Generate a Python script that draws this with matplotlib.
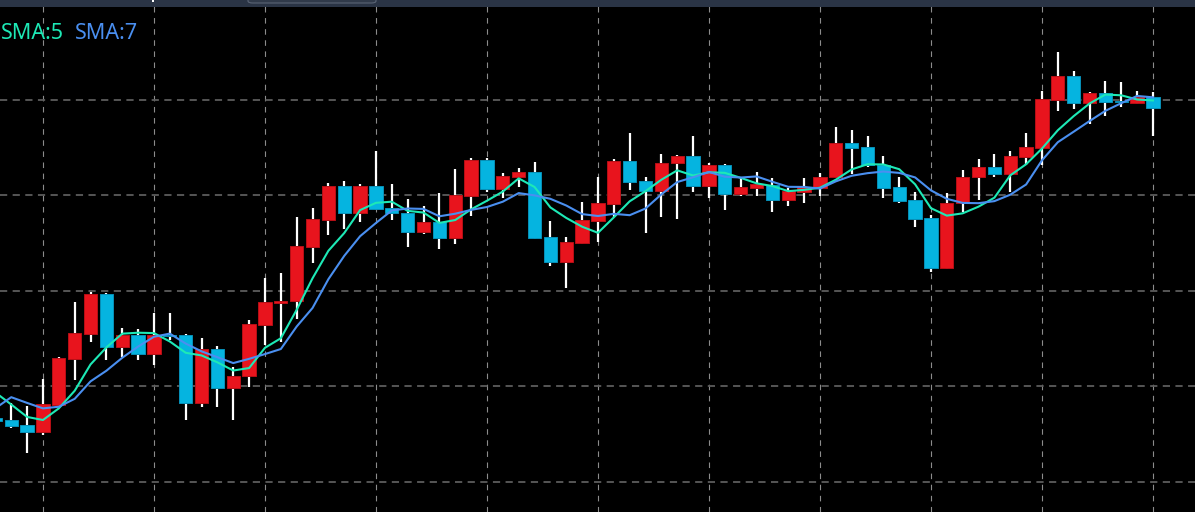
import matplotlib
matplotlib.use("Agg")
import matplotlib.pyplot as plt
import numpy as np
from matplotlib.patches import FancyBboxPatch, Rectangle

# OHLC per candle (grid step = 1.00)
opens = [100.66, 100.64, 100.59, 100.52, 100.80, 101.28, 101.54, 101.96, 101.41, 101.53,
         101.34, 101.53, 101.53, 100.82, 101.39, 100.98, 101.10, 101.64, 101.87, 101.89,
         102.46, 102.74, 103.09, 102.81, 103.09, 102.86, 102.81, 102.61, 102.72, 102.55,
         102.99, 103.37, 103.06, 103.19, 103.24, 102.56, 102.30, 102.50, 102.73, 102.91,
         103.36, 103.15, 103.04, 103.34, 103.41, 103.09, 103.31, 103.01, 103.07, 103.10,
         102.95, 103.03, 103.07, 103.19, 103.54, 103.50, 103.31, 103.08, 102.95, 102.76,
         102.24, 102.92, 103.19, 103.29, 103.22, 103.40, 103.49, 104.00, 104.25, 103.96,
         104.07, 103.98, 103.96, 104.03]
highs = [100.71, 100.82, 100.79, 101.07, 101.30, 101.88, 101.98, 101.97, 101.61, 101.60,
         101.76, 101.76, 101.54, 101.50, 101.42, 101.20, 101.69, 102.13, 102.18, 102.77,
         102.86, 103.13, 103.15, 103.12, 103.46, 103.12, 102.96, 102.88, 103.02, 103.27,
         103.39, 103.39, 103.23, 103.28, 103.35, 102.73, 102.56, 102.93, 103.19, 103.38,
         103.65, 103.19, 103.43, 103.42, 103.62, 103.34, 103.32, 103.19, 103.24, 103.18,
         103.07, 103.18, 103.23, 103.71, 103.68, 103.62, 103.41, 103.19, 103.03, 102.79,
         103.02, 103.26, 103.38, 103.43, 103.46, 103.65, 104.09, 104.50, 104.30, 104.08,
         104.19, 104.18, 104.09, 104.08]
lows = [100.60, 100.56, 100.30, 100.49, 100.79, 101.06, 101.46, 101.27, 101.30, 101.27,
        101.22, 101.48, 100.64, 100.78, 100.78, 100.64, 100.99, 101.43, 101.46, 101.70,
        102.29, 102.58, 102.64, 102.72, 102.84, 102.74, 102.46, 102.59, 102.43, 102.49,
        102.78, 103.03, 102.97, 103.08, 102.54, 102.26, 102.03, 102.49, 102.51, 102.77,
        103.05, 102.60, 102.77, 102.75, 103.03, 102.97, 102.84, 102.99, 102.99, 102.82,
        102.88, 102.92, 102.99, 103.18, 103.22, 103.29, 102.97, 102.92, 102.66, 102.19,
        102.23, 102.82, 102.95, 103.19, 103.03, 103.31, 103.31, 103.88, 103.90, 103.74,
        103.83, 103.92, 103.95, 103.62]
closes = [100.63, 100.58, 100.52, 100.81, 101.29, 101.55, 101.96, 101.41, 101.53, 101.34,
          101.53, 101.52, 100.82, 101.39, 100.98, 101.10, 101.65, 101.88, 101.89, 102.47,
          102.75, 103.09, 102.81, 103.09, 102.85, 102.81, 102.61, 102.72, 102.55, 103.00,
          103.37, 103.06, 103.20, 103.24, 102.55, 102.30, 102.51, 102.74, 102.92, 103.36,
          103.14, 103.04, 103.34, 103.41, 103.09, 103.31, 103.01, 103.08, 103.12, 102.95,
          103.04, 103.08, 103.19, 103.54, 103.49, 103.31, 103.07, 102.94, 102.75, 102.24,
          102.92, 103.19, 103.29, 103.22, 103.41, 103.50, 104.01, 104.25, 103.96, 104.07,
          103.97, 103.97, 104.03, 103.91]
# closes of the bars just left of the visible window (needed for the SMAs)
prev_closes = [99.77, 100.94, 101.21, 101.17, 100.97, 100.68]

sma_periods = [5, 7]
sma_colors = ["#1de9b6", "#4a8ff0"]
up_col = "#e8141d"
down_col = "#05b4e0"

W, H, DPI = 1195, 512, 100
fig = plt.figure(figsize=(W / DPI, H / DPI), dpi=DPI, facecolor="black")
ax = fig.add_axes([0, 0, 1, 1])
ax.set_facecolor("black")

n = len(closes)
x = np.arange(n)
o = np.array(opens)
c = np.array(closes)

# grid
ax.set_yticks(np.arange(100, 105, 1))
ax.set_xticks(np.arange(3, n, 7))
ax.grid(axis="y", color="#5c5c5c", linestyle=(0, (4, 3)), linewidth=1.3)
ax.grid(axis="x", color="#8c8c8c", linestyle=(0, (5, 5)), linewidth=0.8)
ax.set_axisbelow(True)
ax.tick_params(length=0, labelleft=False, labelbottom=False)
for s in ax.spines.values():
    s.set_visible(False)

# wicks then bodies
ax.vlines(x, lows, highs, color="white", linewidth=1.6, zorder=2)
up = c >= o
cols = np.where(up, up_col, down_col)
edges = np.where(up, "#b80f16", "#0790b8")
ax.bar(x, c - o, bottom=o, width=0.84, color=cols, edgecolor=edges,
       linewidth=0.7, zorder=3)

# moving averages
full = np.concatenate([prev_closes, closes])
for p, col in zip(sma_periods, sma_colors):
    sma = np.convolve(full, np.ones(p) / p, mode="valid")[-n:]
    ax.plot(x, sma, color=col, linewidth=1.5, zorder=4)

x0 = 4.6 / 15.857
ax.set_xlim(x0, x0 + W / 15.857)
ax.set_ylim(100 - 30.5 / 95.5, 100 + 481.5 / 95.5)

# legend text
fig.text(1 / W, 1 - 39 / H, "SMA:5", color=sma_colors[0], fontsize=15.5,
         family="Noto Sans", va="baseline", ha="left")
fig.text(75 / W, 1 - 39 / H, "SMA:7", color=sma_colors[1], fontsize=15.5,
         family="Noto Sans", va="baseline", ha="left")

# top toolbar strip
fig.patches.append(Rectangle((0, 1 - 7 / H), 1, 7 / H, transform=fig.transFigure,
                             facecolor="#2a3445", edgecolor="none", zorder=10))
fig.patches.append(FancyBboxPatch((248 / W, 1 - 3 / H), 128 / W, 6 / H,
                                  boxstyle="round,pad=0,rounding_size=0.004",
                                  transform=fig.transFigure, facecolor="#303a4a",
                                  edgecolor="#5a6475", linewidth=0.8, zorder=11))
fig.patches.append(Rectangle((152 / W, 1 - 2 / H), 2 / W, 2 / H, transform=fig.transFigure,
                             facecolor="white", edgecolor="none", zorder=11))

fig.savefig("out.png", dpi=DPI, facecolor="black")
